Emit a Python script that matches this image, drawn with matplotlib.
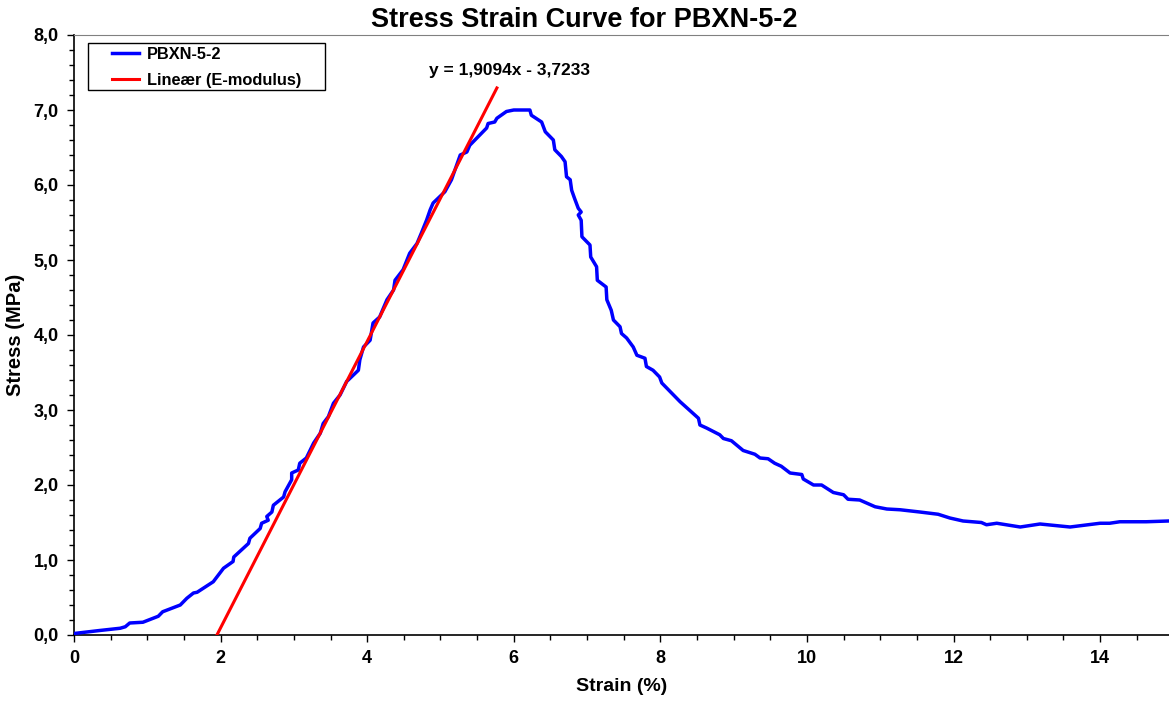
#!/usr/bin/env python3
"""
Stress strain curve for PBXN-5-2 with linear E-modulus fit
"""

import numpy as np
import matplotlib.pyplot as plt
from matplotlib.patches import Rectangle
from matplotlib.ticker import MultipleLocator, FuncFormatter

plt.rcParams['font.family'] = ['Liberation Sans', 'DejaVu Sans']

strain = [0.0, 0.35, 0.63, 0.70, 0.76, 0.94, 1.15, 1.21, 1.45, 1.54, 1.63, 1.68, 1.90, 2.04,
          2.17, 2.18, 2.38, 2.40, 2.54, 2.56, 2.65, 2.63, 2.70, 2.72, 2.86, 2.88, 2.92, 2.97,
          2.97, 3.06, 3.08, 3.17, 3.20, 3.27, 3.36, 3.40, 3.47, 3.54, 3.63, 3.72, 3.88, 3.90,
          3.95, 4.04, 4.08, 4.17, 4.27, 4.36, 4.38, 4.49, 4.58, 4.68, 4.74, 4.81, 4.86, 4.90,
          5.06, 5.15, 5.27, 5.36, 5.40, 5.63, 5.65, 5.74, 5.77, 5.90, 6.00, 6.22, 6.24, 6.38,
          6.43, 6.54, 6.56, 6.65, 6.70, 6.72, 6.77, 6.79, 6.83, 6.88, 6.92, 6.88, 6.92, 6.93,
          7.04, 7.05, 7.13, 7.14, 7.26, 7.27, 7.33, 7.36, 7.45, 7.47, 7.54, 7.63, 7.68, 7.79,
          7.81, 7.90, 7.99, 8.02, 8.27, 8.52, 8.54, 8.63, 8.81, 8.86, 8.97, 9.13, 9.29, 9.36,
          9.47, 9.56, 9.65, 9.77, 9.93, 9.95, 10.09, 10.20, 10.36, 10.50, 10.56, 10.72, 10.93,
          11.09, 11.27, 11.54, 11.79, 11.95, 12.13, 12.38, 12.45, 12.59, 12.91, 13.18, 13.59,
          14.00, 14.13, 14.27, 14.63, 14.93]
stress = [0.02, 0.06, 0.09, 0.11, 0.16, 0.17, 0.25, 0.31, 0.40, 0.49, 0.56, 0.57, 0.71, 0.89,
          0.98, 1.04, 1.22, 1.29, 1.42, 1.49, 1.53, 1.58, 1.64, 1.73, 1.84, 1.91, 1.98, 2.07,
          2.16, 2.20, 2.29, 2.36, 2.42, 2.56, 2.69, 2.82, 2.91, 3.09, 3.20, 3.38, 3.53, 3.67,
          3.84, 3.93, 4.16, 4.24, 4.47, 4.60, 4.73, 4.87, 5.09, 5.22, 5.36, 5.53, 5.67, 5.76,
          5.91, 6.07, 6.40, 6.44, 6.53, 6.76, 6.82, 6.84, 6.89, 6.98, 7.00, 7.00, 6.93, 6.84,
          6.71, 6.60, 6.47, 6.38, 6.31, 6.11, 6.07, 5.93, 5.82, 5.69, 5.64, 5.60, 5.53, 5.31,
          5.20, 5.04, 4.91, 4.73, 4.64, 4.47, 4.33, 4.20, 4.11, 4.02, 3.96, 3.84, 3.73, 3.69,
          3.58, 3.53, 3.44, 3.36, 3.11, 2.89, 2.80, 2.76, 2.67, 2.62, 2.59, 2.46, 2.41, 2.36,
          2.35, 2.29, 2.25, 2.16, 2.14, 2.08, 2.00, 2.00, 1.90, 1.87, 1.81, 1.80, 1.71,
          1.68, 1.67, 1.64, 1.61, 1.56, 1.52, 1.50, 1.47, 1.49, 1.44, 1.48, 1.44,
          1.49, 1.49, 1.51, 1.51, 1.52]

# Linear fit (E-modulus)
slope = 1.9094
intercept = -3.7233
fit_range = [1.95, 5.77]

W, H = 1169, 705
fig = plt.figure(figsize=(W / 100, H / 100), dpi=100)
ax = fig.add_axes([74 / W, 70 / H, 1 - 74 / W, 600 / H])

ax.plot(strain, stress, color='#0000ff', linewidth=2.5, label='PBXN-5-2', zorder=3)
fit_x = np.array(fit_range)
ax.plot(fit_x, slope * fit_x + intercept, color='#ff0000', linewidth=2.2,
        label='Lineær (E-modulus)', zorder=4)

ax.text(5.94, 7.52, 'y = 1,9094x - 3,7233', ha='center', va='center',
        fontsize=12.5, fontweight='bold')

ax.set_xlim(0, 14.94)
ax.set_ylim(0, 8)
ax.xaxis.set_major_locator(MultipleLocator(2))
ax.xaxis.set_minor_locator(MultipleLocator(0.5))
ax.yaxis.set_major_locator(MultipleLocator(1))
ax.yaxis.set_minor_locator(MultipleLocator(0.2))
ax.yaxis.set_major_formatter(FuncFormatter(lambda v, p: f'{v:.1f}'.replace('.', ',')))
ax.xaxis.set_major_formatter(FuncFormatter(lambda v, p: f'{v:.0f}'))

ax.tick_params(which='major', direction='out', length=5, width=1, labelsize=13, pad=6)
ax.tick_params(which='minor', direction='out', length=3.5, width=1)
for lbl in ax.get_xticklabels() + ax.get_yticklabels():
    lbl.set_fontweight('bold')

ax.spines['right'].set_visible(False)
ax.spines['top'].set_color('#808080')
ax.spines['left'].set_linewidth(1.2)
ax.spines['bottom'].set_linewidth(1.2)

ax.set_xlabel('Strain (%)', fontsize=14, fontweight='bold', labelpad=8)
ax.set_ylabel('Stress (MPa)', fontsize=14.5, fontweight='bold', labelpad=6)
fig.text(0.5, 0.972, 'Stress Strain Curve for PBXN-5-2', ha='center', va='center',
         fontsize=19.5, fontweight='bold')

# legend frame drawn separately to get the wide side padding
frame = Rectangle((88 / W, (H - 90) / H), 237 / W, 47 / H, transform=fig.transFigure,
                  facecolor='white', edgecolor='black', linewidth=1.0, zorder=5,
                  clip_on=False)
ax.add_patch(frame)
leg = ax.legend(loc='upper left', bbox_to_anchor=(112 / W, (H - 47) / H),
                bbox_transform=fig.transFigure, frameon=False,
                prop={'weight': 'bold', 'size': 11.8}, handlelength=1.65,
                borderpad=0, borderaxespad=0, labelspacing=0.68, handletextpad=0.5)
leg.set_zorder(6)

plt.savefig('out.png', dpi=100)
plt.close()
